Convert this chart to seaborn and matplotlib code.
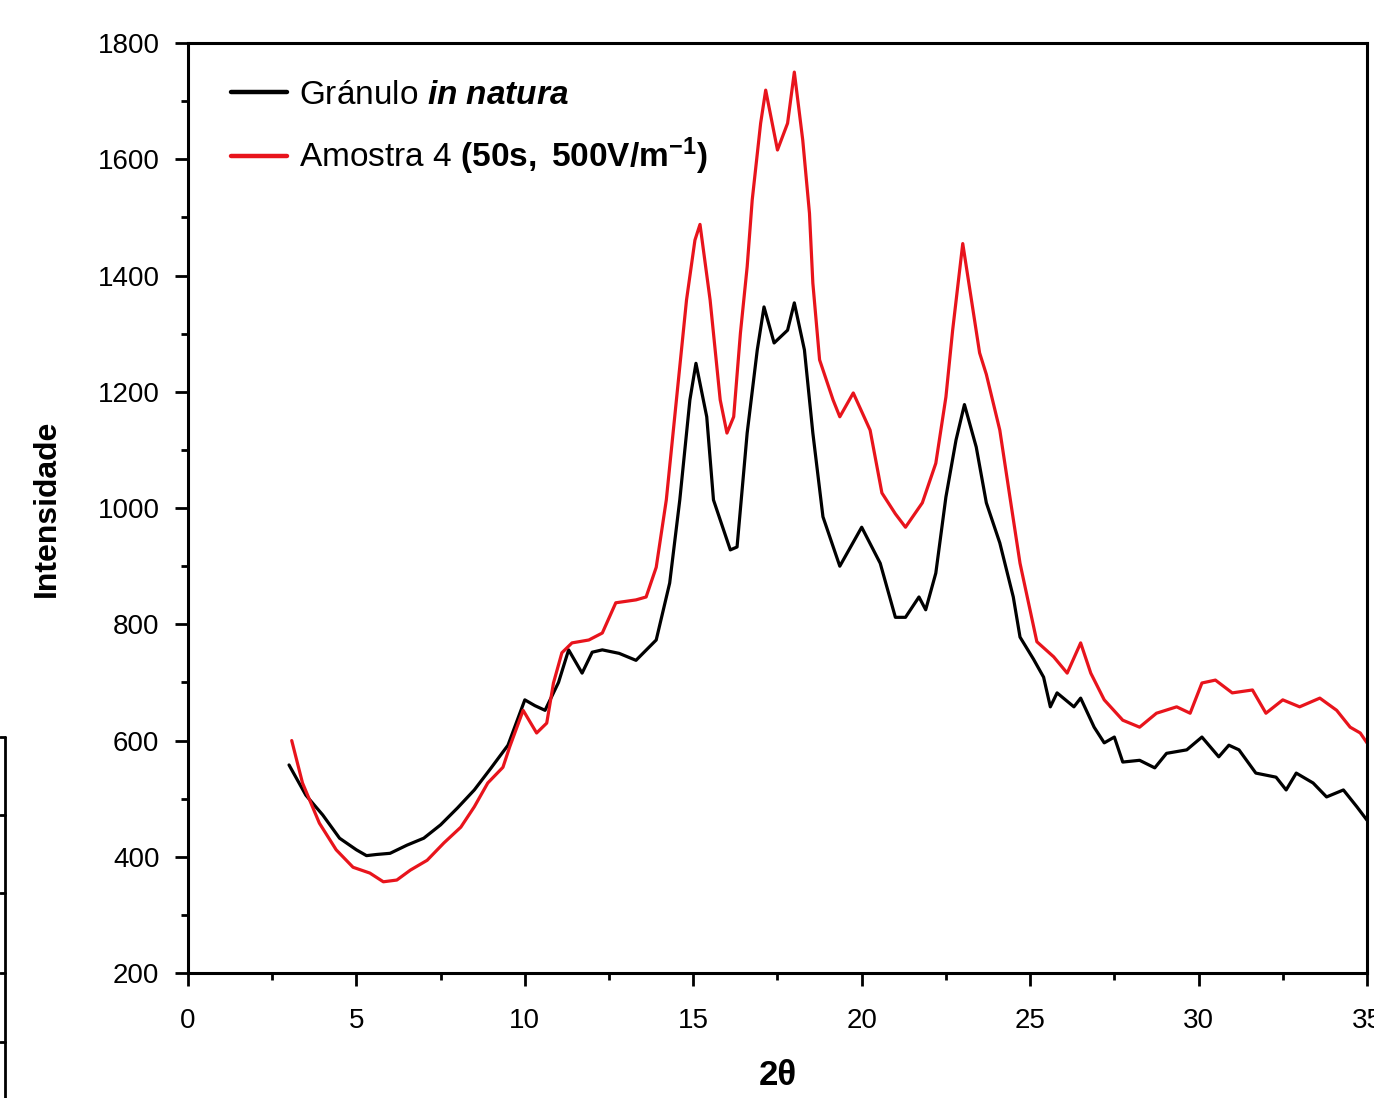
import matplotlib
matplotlib.use('Agg')
import matplotlib.pyplot as plt
import matplotlib.lines as mlines
from matplotlib.ticker import MultipleLocator
import seaborn as sns
import numpy as np

# --- data ---
theta_granulo = [3.0, 3.5, 4.0, 4.5, 5.0, 5.3, 5.6, 6.0, 6.5, 7.0, 7.5, 8.0, 8.5, 9.0,
                 9.5, 10.0, 10.3, 10.6, 11.0, 11.3, 11.7, 12.0, 12.3, 12.8, 13.3, 13.9,
                 14.3, 14.6, 14.9, 15.08, 15.4, 15.6, 16.1, 16.3, 16.6, 16.9, 17.1, 17.4,
                 17.8, 18.0, 18.3, 18.55, 18.85, 19.35, 20.0, 20.55, 21.0, 21.3, 21.7,
                 21.9, 22.2, 22.5, 22.8, 23.05, 23.4, 23.7, 24.1, 24.5, 24.7, 25.1, 25.4,
                 25.6, 25.8, 26.3, 26.5, 26.9, 27.2, 27.5, 27.75, 28.25, 28.7, 29.05,
                 29.65, 30.1, 30.6, 30.9, 31.2, 31.7, 32.3, 32.6, 32.9, 33.4, 33.8, 34.3,
                 34.7, 35.0]
int_granulo = [558, 506, 472, 432, 412, 402, 404, 406, 420, 432, 455, 484, 515, 553,
               592, 670, 660, 652, 700, 756, 716, 752, 756, 750, 738, 773,
               871, 1014, 1186, 1249, 1157, 1014, 928, 933, 1129, 1272, 1346, 1284,
               1306, 1353, 1272, 1129, 985, 900, 967, 905, 812, 812, 847,
               825, 888, 1019, 1117, 1178, 1105, 1009, 940, 847, 778, 740, 709,
               658, 682, 658, 673, 623, 596, 606, 563, 566, 553, 578,
               584, 606, 572, 592, 584, 544, 537, 515, 544, 527, 503, 515,
               486, 463]

theta_amostra = [3.08, 3.4, 3.9, 4.4, 4.9, 5.4, 5.8, 6.2, 6.6, 7.1, 7.6, 8.1, 8.5, 8.9,
                 9.35, 9.55, 9.95, 10.35, 10.65, 10.85, 11.1, 11.4, 11.9, 12.3, 12.7,
                 13.3, 13.6, 13.9, 14.2, 14.5, 14.8, 15.05, 15.2, 15.5, 15.8, 16.0, 16.2,
                 16.4, 16.6, 16.75, 17.0, 17.15, 17.5, 17.8, 18.0, 18.25, 18.45, 18.55,
                 18.75, 19.15, 19.35, 19.75, 20.25, 20.6, 21.0, 21.3, 21.8, 22.2, 22.5,
                 22.7, 23.0, 23.5, 23.7, 24.1, 24.4, 24.7, 25.2, 25.7, 26.1, 26.5, 26.8,
                 27.2, 27.75, 28.25, 28.75, 29.35, 29.75, 30.1, 30.5, 31.0, 31.6, 32.0,
                 32.5, 33.0, 33.6, 34.1, 34.5, 34.8, 35.0]
int_amostra = [600, 527, 458, 412, 382, 372, 357, 360, 377, 394, 424, 451, 486, 527,
               554, 589, 652, 613, 630, 699, 751, 768, 773, 785, 837,
               842, 847, 898, 1014, 1186, 1358, 1461, 1488, 1358, 1186, 1129, 1157,
               1301, 1415, 1530, 1662, 1719, 1616, 1662, 1750, 1633, 1507, 1387,
               1255, 1186, 1157, 1198, 1134, 1026, 990, 967, 1009, 1077, 1191,
               1306, 1455, 1267, 1230, 1134, 1019, 905, 770, 744, 716, 768, 716,
               670, 635, 623, 647, 658, 647, 699, 704, 682, 687, 647,
               670, 658, 673, 652, 623, 613, 596]

label_granulo = r'Gránulo $\mathbfit{in\ natura}$'
label_amostra = r'Amostra 4 $\mathbf{(50s,\ 500V/m^{-1})}$'

sns.set_style('ticks')
plt.rcParams['font.family'] = ['Liberation Sans', 'DejaVu Sans']
plt.rcParams['text.color'] = 'black'
plt.rcParams['axes.labelcolor'] = 'black'
plt.rcParams['xtick.color'] = 'black'
plt.rcParams['ytick.color'] = 'black'
plt.rcParams['mathtext.fontset'] = 'custom'
plt.rcParams['mathtext.rm'] = 'Liberation Sans'
plt.rcParams['mathtext.it'] = 'Liberation Sans:italic'
plt.rcParams['mathtext.bf'] = 'Liberation Sans:bold'
plt.rcParams['mathtext.bfit'] = 'Liberation Sans:italic:bold'

fig = plt.figure(figsize=(13.74, 10.98), dpi=100)
ax = fig.add_axes([0.1368, 0.1138, 0.8581, 0.847])

sns.lineplot(x=theta_granulo, y=int_granulo, ax=ax, color='black', lw=2.3,
             sort=False, estimator=None, label=label_granulo)
sns.lineplot(x=theta_amostra, y=int_amostra, ax=ax, color='#e8141c', lw=2.3,
             sort=False, estimator=None, label=label_amostra)

ax.set_xlim(0, 35)
ax.set_ylim(200, 1800)
ax.xaxis.set_major_locator(MultipleLocator(5))
ax.xaxis.set_minor_locator(MultipleLocator(2.5))
ax.yaxis.set_major_locator(MultipleLocator(200))
ax.yaxis.set_minor_locator(MultipleLocator(100))
ax.tick_params(which='major', length=9.5, width=2, labelsize=20, direction='out',
               top=False, right=False)
ax.tick_params(axis='y', which='major', pad=11)
ax.tick_params(axis='x', which='major', pad=16)
ax.tick_params(which='minor', length=5, width=2, direction='out', top=False, right=False)
for s in ax.spines.values():
    s.set_linewidth(2.2)
    s.set_color('black')

ax.set_xlabel('2θ', fontsize=25, fontweight='bold', labelpad=18)
ax.set_ylabel('Intensidade', fontsize=23, fontweight='bold', labelpad=26)

leg = ax.legend(loc='upper left', frameon=False, fontsize=24, handlelength=1.7,
                handletextpad=0.35, labelspacing=0.75, borderaxespad=0.0,
                bbox_to_anchor=(0.025, 0.975))
for h in leg.legend_handles:
    h.set_linewidth(3.2)

# cropped table edge at the far left of the original scan
fig.add_artist(mlines.Line2D([0.004, 0.004], [0.0, 0.329], color='black', lw=2))
for yy in [0.329, 0.258, 0.187, 0.114, 0.051]:
    fig.add_artist(mlines.Line2D([0.0, 0.004], [yy, yy], color='black', lw=2))

fig.savefig('out.png', dpi=100)
